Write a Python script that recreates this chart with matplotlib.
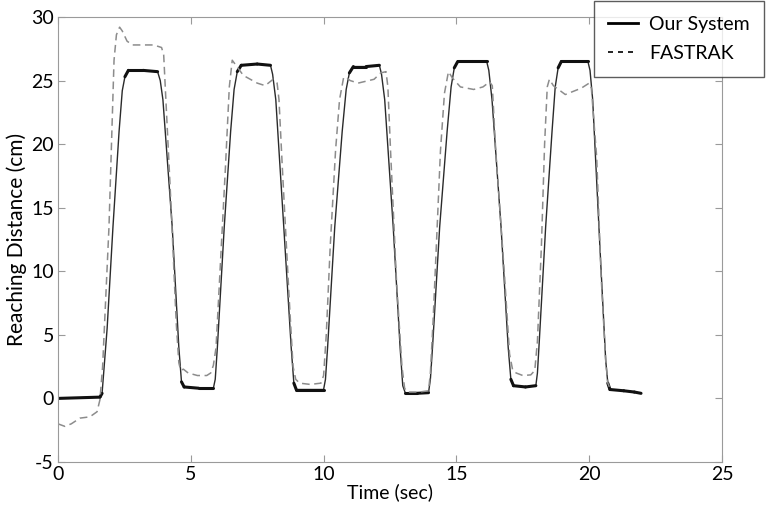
"""Reaching distance over time: our system vs FASTRAK."""

import matplotlib.pyplot as plt
import numpy as np

plt.rcParams["font.family"] = ["Lato", "DejaVu Sans"]
plt.rcParams["axes.unicode_minus"] = False

# Our System trace (time in s, distance in cm)
our_t = [0.0, 1.58, 1.66, 1.72, 1.85, 2.07, 2.3, 2.42, 2.52, 2.65, 3.2, 3.75,
         3.85, 3.95, 4.3, 4.55, 4.65, 4.75, 5.3, 5.85,
         5.92, 6.0, 6.26, 6.5, 6.63, 6.75, 6.9, 7.5, 8.0,
         8.08, 8.2, 8.5, 8.78, 8.88, 8.97, 9.5, 10.0,
         10.07, 10.15, 10.42, 10.7, 10.85, 10.97, 11.12, 11.6, 12.1,
         12.18, 12.3, 12.62, 12.88, 12.98, 13.08, 13.5, 13.95,
         14.02, 14.1, 14.37, 14.65, 14.8, 14.92, 15.05, 15.6, 16.14,
         16.22, 16.34, 16.68, 16.95, 17.05, 17.15, 17.6, 17.99,
         18.05, 18.12, 18.36, 18.6, 18.72, 18.83, 18.95, 19.45, 19.95,
         20.03, 20.13, 20.4, 20.62, 20.7, 20.78, 21.3, 21.7, 21.95]
our_y = [0.0, 0.1, 0.4, 2.0, 5.5, 13.5, 21.0, 24.2, 25.3, 25.8, 25.8, 25.7,
         25.0, 23.5, 13.5, 4.0, 1.3, 0.9, 0.8, 0.8,
         1.5, 4.0, 13.5, 21.0, 24.3, 25.7, 26.2, 26.3, 26.2,
         25.5, 23.5, 13.5, 4.0, 1.2, 0.7, 0.7, 0.7,
         1.5, 4.0, 13.5, 21.0, 24.3, 25.6, 26.1, 26.1, 26.2,
         25.5, 23.5, 13.5, 4.0, 1.0, 0.4, 0.4, 0.45,
         1.5, 4.0, 13.5, 21.0, 24.5, 26.0, 26.5, 26.5, 26.5,
         25.8, 23.5, 13.5, 4.0, 1.5, 1.0, 0.9, 1.0,
         2.0, 4.5, 13.5, 21.0, 24.5, 26.0, 26.5, 26.5, 26.5,
         25.8, 23.5, 12.0, 3.0, 1.2, 0.7, 0.6, 0.5, 0.4]

# FASTRAK trace
fas_t = [0.0, 0.26, 0.5, 0.83, 1.2, 1.47, 1.58, 1.68, 1.92, 2.11, 2.2, 2.32,
         2.42, 2.6, 2.8, 3.2, 3.6, 3.9, 3.98, 4.05, 4.26, 4.45, 4.55, 4.62,
         4.72, 4.9, 5.25, 5.6, 5.75, 5.85, 5.95, 6.1, 6.3, 6.45, 6.56, 6.7,
         6.98, 7.5, 7.8, 8.1, 8.25, 8.32, 8.45, 8.7, 8.85, 8.95, 9.1, 9.5,
         9.9, 10.0, 10.1, 10.25, 10.45, 10.6, 10.75, 10.82, 11.0, 11.3, 11.9,
         12.15, 12.35, 12.42, 12.52, 12.75, 12.95, 13.05, 13.15, 13.6, 13.95,
         14.02, 14.12, 14.4, 14.55, 14.7, 14.85, 15.15, 15.65, 16.0, 16.25,
         16.35, 16.48, 16.8, 17.0, 17.12, 17.25, 17.5, 17.8, 17.95, 18.05,
         18.2, 18.32, 18.42, 18.5, 18.65, 19.1, 19.7, 20.0, 20.08, 20.28,
         20.45, 20.62, 20.7, 20.78]
fas_y = [-2.0, -2.2, -2.0, -1.55, -1.45, -1.05, -0.1, 2.5, 13.5, 26.6, 28.6, 29.2,
         28.9, 28.1, 27.8, 27.8, 27.8, 27.6, 27.0, 24.0, 15.0, 6.0, 2.8, 2.2,
         2.3, 2.0, 1.8, 1.8, 2.0, 2.6, 4.0, 10.0, 18.0, 24.5, 26.6, 26.2,
         25.4, 24.8, 24.6, 25.1, 24.8, 23.5, 18.0, 8.0, 2.5, 1.5, 1.2, 1.1,
         1.2, 1.8, 5.0, 12.0, 19.5, 23.5, 25.2, 25.3, 25.0, 24.8, 25.1,
         25.6, 25.7, 24.5, 19.5, 9.0, 2.5, 0.8, 0.5, 0.5, 0.6,
         2.0, 6.0, 19.5, 24.0, 25.7, 25.2, 24.5, 24.3, 24.5, 24.9,
         24.6, 19.5, 10.0, 3.5, 2.2, 2.0, 1.8, 1.85, 2.2, 4.5,
         12.0, 20.0, 24.5, 25.1, 24.6, 23.9, 24.4, 24.8, 24.4, 19.0,
         9.5, 3.0, 1.2, 0.8]

grey = "#9a9a9a"

fig = plt.figure(figsize=(7.66, 5.07), dpi=100)
ax = fig.add_axes([0.0757, 0.0888, 0.8669, 0.8777])

ax.plot(our_t, our_y, color="#2a2a2a", linewidth=1.0, label="Our System")
# noisy flat parts look thicker in the original
t, y = np.array(our_t), np.array(our_y)
flat = np.abs(np.diff(y)) < 0.6
for i in np.where(flat)[0]:
    ax.plot(t[i:i + 2], y[i:i + 2], color="#111111", linewidth=2.2,
            solid_capstyle="round")
ax.plot(fas_t, fas_y, color="#8c8c8c", linewidth=1.1, dashes=(5, 3),
        label="FASTRAK")

ax.set_xlim(0, 25)
ax.set_ylim(-5, 30)
ax.set_xticks(range(0, 26, 5))
ax.set_yticks(range(-5, 31, 5))
for s in ax.spines.values():
    s.set_color(grey)
ax.tick_params(direction="in", length=5, color=grey, labelsize=14,
               top=True, right=True, pad=3)
ax.set_xlabel("Time (sec)", fontsize=14, labelpad=0)
ax.set_ylabel("Reaching Distance (cm)", fontsize=15, labelpad=3)

leg = fig.legend(loc="upper right", bbox_to_anchor=(0.998, 0.998),
                 fontsize=14, frameon=True, fancybox=False,
                 handlelength=1.5, handletextpad=0.6, borderpad=0.75,
                 labelspacing=0.65, borderaxespad=0)
leg.get_frame().set_edgecolor("#333333")
leg.get_frame().set_linewidth(1.0)
leg.legend_handles[0].set_color("black")
leg.legend_handles[0].set_linewidth(2.0)
leg.legend_handles[1].set_color("black")
leg.legend_handles[1].set_linewidth(1.2)
leg.legend_handles[1].set_dashes((3, 3))

fig.savefig("out.png", dpi=100)
